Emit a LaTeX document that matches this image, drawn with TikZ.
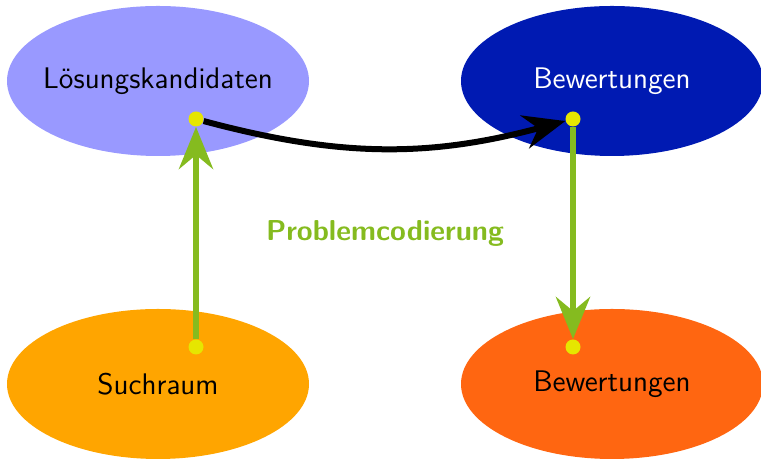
\documentclass[tikz,border=0pt]{standalone}
\usepackage{tikz}
\usetikzlibrary{arrows.meta, shapes.geometric, positioning}
\definecolor{candblue}{RGB}{153, 153, 255}
\definecolor{evalblue}{RGB}{0, 26, 178}
\definecolor{searchorange}{RGB}{255, 165, 0}
\definecolor{evalorange}{RGB}{255, 102, 17}
\definecolor{codegreen}{RGB}{133, 187, 31}
\definecolor{dotyellow}{RGB}{230, 230, 0}
\begin{document}
\begin{tikzpicture}[x=0.5pt, y=0.5pt,
		blob/.style={ellipse, minimum width=151pt, minimum height=75pt, inner xsep=-7pt, inner ysep=0pt, font=\sffamily\fontsize{14.9}{18}\selectfont},
		pin/.style={circle, fill=dotyellow, minimum size=7.5pt, inner sep=0pt},
		codearrow/.style={codegreen, line width=3.3pt, -{Stealth[length=21pt, width=17pt, inset=7pt]}},
		maparrow/.style={black, line width=3pt, -{Stealth[length=21pt, width=17pt, inset=7pt]}}]
	
	\useasboundingbox (0,0) rectangle (761,459);
	
	% Ellipses
	\node [blob, fill=candblue] (cand) at (158,378) {Lösungskandidaten};
	\node [blob, fill=evalblue, text=white] (evaltop) at (612,378) {Bewertungen};
	\node [blob, fill=searchorange] (search) at (158,75) {Suchraum};
	\node [blob, fill=evalorange] (evalbot) at (612,75) {Bewertungen};
	
	% Dots
	\node [pin] (pcand) at ([shift={(38,-38)}]cand.center) {};
	\node [pin] (ptop) at ([shift={(-39,-38)}]evaltop.center) {};
	\node [pin] (psearch) at ([shift={(38,37)}]search.center) {};
	\node [pin] (pbot) at ([shift={(-39,37)}]evalbot.center) {};
	
	% Arrows
	\draw [codearrow] (psearch) -- (pcand);
	\draw [codearrow] (ptop) -- (pbot);
	\draw [maparrow] (pcand) to[out=-15, in=195] (ptop);
	
	\node [codegreen, font=\sffamily\bfseries\Large] (label) at (385,226) {Problemcodierung};
	
\end{tikzpicture}
\end{document}
